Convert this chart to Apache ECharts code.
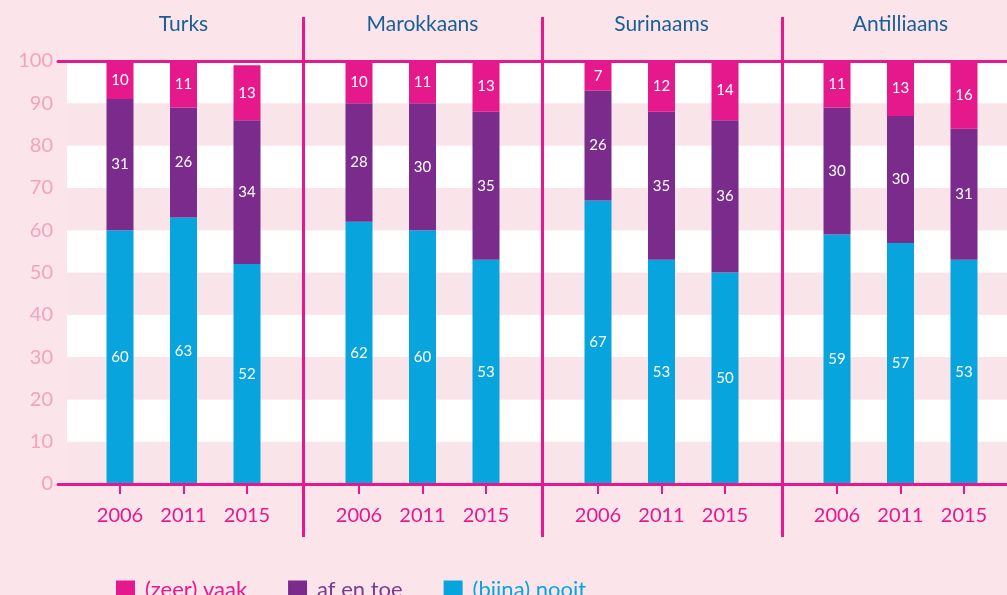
<!DOCTYPE html>
<html>
<head>
<meta charset="utf-8">
<script src="https://cdn.jsdelivr.net/npm/echarts@6/dist/echarts.min.js"></script>
<style>
  html, body { margin: 0; padding: 0; background: #fce4eb; }
  #chart { width: 1007px; height: 595px; }
</style>
</head>
<body>
<div id="chart"></div>
<script>
const groups = ['Turks', 'Marokkaans', 'Surinaams', 'Antilliaans']
const years = ['2006', '2011', '2015']
const nooit = [[60, 63, 52], [62, 60, 53], [67, 53, 50], [59, 57, 53]]
const afEnToe = [[31, 26, 34], [28, 30, 35], [26, 35, 36], [30, 30, 31]]
const zeerVaak = [[10, 11, 13], [10, 11, 13], [7, 12, 14], [11, 13, 16]]
const yTicks = [0, 10, 20, 30, 40, 50, 60, 70, 80, 90, 100]

const MAGENTA = '#e5198b'
const PURPLE = '#7a2b8c'
const BLUE = '#08a4dd'
const TITLE = '#1a5e96'
const FONT = 'Lato, "Open Sans", sans-serif'

const chart = echarts.init(document.getElementById('chart'))

const grids = [
  { left: 58, right: 0, top: 61, bottom: 111 },   // axis lines
  { left: 67, right: 0, top: 61, bottom: 111 },   // stripes + y labels
  { left: 303, width: 479, top: 17, bottom: 58 }  // group dividers
]
const xAxes = [
  { gridIndex: 0, type: 'value', position: 'bottom', z: 5, axisLine: { show: true, lineStyle: { color: MAGENTA, width: 3 } }, axisTick: { show: false }, axisLabel: { show: false }, splitLine: { show: false } },
  { gridIndex: 0, type: 'value', position: 'top', z: 5, axisLine: { show: true, lineStyle: { color: MAGENTA, width: 3 } }, axisTick: { show: false }, axisLabel: { show: false }, splitLine: { show: false } },
  { gridIndex: 1, type: 'value', show: false },
  { gridIndex: 2, type: 'value', min: 0, max: 2, interval: 1, axisLine: { show: false }, axisTick: { show: false }, axisLabel: { show: false }, splitLine: { show: true, lineStyle: { color: MAGENTA, width: 3 } } }
]
const yAxes = [
  { gridIndex: 0, type: 'value', min: 0, max: 100, show: false },
  {
    gridIndex: 1, type: 'value', min: 0, max: 100, interval: 10,
    axisLine: { show: false }, axisTick: { show: false },
    axisLabel: { color: '#f2a3bd', fontSize: 20, fontFamily: FONT, margin: 14, formatter: v => yTicks.includes(v) ? String(v) : '' },
    splitLine: { show: false },
    splitArea: { show: true, areaStyle: { color: ['#f9e4ea', '#ffffff'] } }
  },
  { gridIndex: 2, type: 'value', show: false }
]
const series = []

groups.forEach((g, i) => {
  const gi = grids.length
  grids.push({ left: 88.25 + 239 * i, width: 190.5, top: 61, bottom: 111 })
  const xb = xAxes.length
  xAxes.push({
    gridIndex: gi, type: 'category', data: years, position: 'bottom',
    axisLine: { show: false },
    axisTick: { show: true, alignWithLabel: true, length: 10, lineStyle: { color: MAGENTA, width: 2 } },
    axisLabel: { color: MAGENTA, fontSize: 20, fontFamily: FONT, margin: 22 }
  })
  xAxes.push({
    gridIndex: gi, type: 'category', data: years, position: 'top',
    name: g, nameLocation: 'middle', nameGap: 26,
    nameTextStyle: { color: TITLE, fontSize: 21, fontFamily: FONT },
    axisLine: { show: false }, axisTick: { show: false }, axisLabel: { show: false }
  })
  const yi = yAxes.length
  yAxes.push({ gridIndex: gi, type: 'value', min: 0, max: 100, show: false })
  const parts = [['(bijna) nooit', nooit[i], BLUE], ['af en toe', afEnToe[i], PURPLE], ['(zeer) vaak', zeerVaak[i], MAGENTA]]
  parts.forEach(([name, data, color]) => {
    series.push({
      type: 'bar', name, data, stack: 'g' + i,
      xAxisIndex: xb, yAxisIndex: yi, barWidth: 27,
      itemStyle: { color },
      label: { show: true, position: 'inside', color: '#fff', fontSize: 15, fontFamily: FONT },
      emphasis: { disabled: true }
    })
  })
})

chart.setOption({
  backgroundColor: '#fce4eb',
  animation: false,
  grid: grids,
  xAxis: xAxes,
  yAxis: yAxes,
  legend: {
    left: 111, top: 574, itemWidth: 19, itemHeight: 19, itemGap: 41,
    icon: 'rect', selectedMode: false,
    textStyle: { fontSize: 22, fontFamily: FONT, padding: [0, 0, 0, 5] },
    data: [
      { name: '(zeer) vaak', textStyle: { color: MAGENTA } },
      { name: 'af en toe', textStyle: { color: '#7b3a8e' } },
      { name: '(bijna) nooit', textStyle: { color: BLUE } }
    ]
  },
  series
})
</script>
</body>
</html>
